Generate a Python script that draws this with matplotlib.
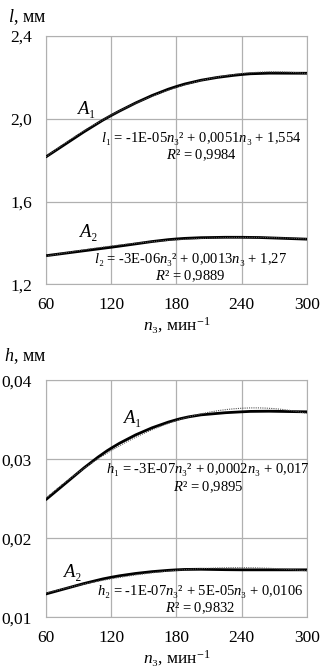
import numpy as np
import matplotlib
matplotlib.use('Agg')
import matplotlib.pyplot as plt
from matplotlib.path import Path
from matplotlib.patches import PathPatch

plt.rcParams['font.family'] = ['Liberation Serif', 'DejaVu Serif']
plt.rcParams['mathtext.fontset'] = 'custom'
plt.rcParams['mathtext.rm'] = 'Liberation Serif'
plt.rcParams['mathtext.it'] = 'Liberation Serif:italic'

# speed of rotation n3, min^-1
n3 = [60, 120, 180, 240, 300]

# l, mm
l_a1 = [1.816, 2.016, 2.156, 2.214, 2.22]
l_a2 = [1.338, 1.379, 1.419, 1.427, 1.418]

# h, mm
h_a1 = [0.0249, 0.0314, 0.0350, 0.0360, 0.0360]
h_a2 = [0.01295, 0.01506, 0.0160, 0.0160, 0.0160]

l_eq1 = "$l$₁ = -1E-05$n$₃² + 0,0051$n$₃ + 1,554"
l_eq2 = "$l$₂ = -3E-06$n$₃² + 0,0013$n$₃ + 1,27"
h_eq1 = "$h$₁ = -3E-07$n$₃² + 0,0002$n$₃ + 0,017"
h_eq2 = "$h$₂ = -1E-07$n$₃² + 5E-05$n$₃ + 0,0106"
l_r2 = ["$R$² = 0,9984", "$R$² = 0,9889"]
h_r2 = ["$R$² = 0,9895", "$R$² = 0,9832"]

EQ_SIZE = 10.5


def smooth_line(ax, x, y):
    """Excel-style smoothed line as a bezier path through the points"""
    x = np.array(x, float)
    y = np.array(y, float)
    px = np.concatenate([[x[0]], x, [x[-1]]])
    py = np.concatenate([[y[0]], y, [y[-1]]])
    verts = [(x[0], y[0])]
    codes = [Path.MOVETO]
    for i in range(1, len(px) - 2):
        c1 = (px[i] + (px[i + 1] - px[i - 1]) / 6, py[i] + (py[i + 1] - py[i - 1]) / 6)
        c2 = (px[i + 1] - (px[i + 2] - px[i]) / 6, py[i + 1] - (py[i + 2] - py[i]) / 6)
        verts += [c1, c2, (px[i + 1], py[i + 1])]
        codes += [Path.CURVE4] * 3
    ax.add_patch(PathPatch(Path(verts, codes), fill=False, lw=2.0, color='black',
                           capstyle='round', zorder=3))


def trend(ax, x, y):
    """Polynomial (2nd order) trendline, dotted"""
    c = np.polyfit(x, y, 2)
    xs = np.linspace(x[0], x[-1], 200)
    ax.plot(xs, np.polyval(c, xs), color='#555555', lw=0.8, ls=(0, (1, 1)), zorder=4)


def style(ax):
    ax.set_xlim(60, 300)
    ax.set_xticks(n3)
    ax.grid(True, color='#b0b0b0', lw=0.9)
    for s in ax.spines.values():
        s.set_color('#b0b0b0')
    ax.tick_params(axis='x', length=0, labelsize=12.5, pad=9)
    ax.tick_params(axis='y', length=0, labelsize=12.5, pad=10)
    ax.set_xlabel("$n$₃, мин$^{-1}$", fontsize=12.5, labelpad=2)


fig = plt.figure(figsize=(3.27, 6.72), dpi=100)

# top chart: l
ax1 = fig.add_axes([0.1407, 0.577, 0.798, 0.3694])
style(ax1)
ax1.set_ylim(1.2, 2.4)
ax1.set_yticks([1.2, 1.6, 2.0, 2.4])
ax1.set_yticklabels(['1,2', '1,6', '2,0', '2,4'])
for y in (l_a1, l_a2):
    smooth_line(ax1, n3, y)
    trend(ax1, n3, y)
ax1.text(97, 2.046, "$A$₁", fontsize=13.5, ha='center', va='center')
ax1.text(99, 1.449, "$A$₂", fontsize=13.5, ha='center', va='center')
ax1.text(203, 1.905, l_eq1, fontsize=EQ_SIZE, ha='center', va='center', zorder=5)
ax1.text(203, 1.822, l_r2[0], fontsize=EQ_SIZE, ha='center', va='center', zorder=5)
ax1.text(193, 1.321, l_eq2, fontsize=EQ_SIZE, ha='center', va='center', zorder=5)
ax1.text(193, 1.240, l_r2[1], fontsize=EQ_SIZE, ha='center', va='center', zorder=5)
fig.text(0.025, 0.975, "$l$, мм", fontsize=13, va='center')

# bottom chart: h
ax2 = fig.add_axes([0.1407, 0.0815, 0.798, 0.3527])
style(ax2)
ax2.set_ylim(0.01, 0.04)
ax2.set_yticks([0.01, 0.02, 0.03, 0.04])
ax2.set_yticklabels(['0,01', '0,02', '0,03', '0,04'])
for y in (h_a1, h_a2):
    smooth_line(ax2, n3, y)
    trend(ax2, n3, y)
ax2.text(139, 0.0351, "$A$₁", fontsize=13.5, ha='center', va='center')
ax2.text(84, 0.01565, "$A$₂", fontsize=13.5, ha='center', va='center')
ax2.text(209, 0.02873, h_eq1, fontsize=EQ_SIZE, ha='center', va='center', zorder=5)
ax2.text(209, 0.0265, h_r2[0], fontsize=EQ_SIZE, ha='center', va='center', zorder=5)
ax2.text(202, 0.01324, h_eq2, fontsize=EQ_SIZE, ha='center', va='center', zorder=5)
ax2.text(202, 0.01114, h_r2[1], fontsize=EQ_SIZE, ha='center', va='center', zorder=5)
fig.text(0.012, 0.47, "$h$, мм", fontsize=13, va='center')

fig.savefig('out.png', dpi=100)
